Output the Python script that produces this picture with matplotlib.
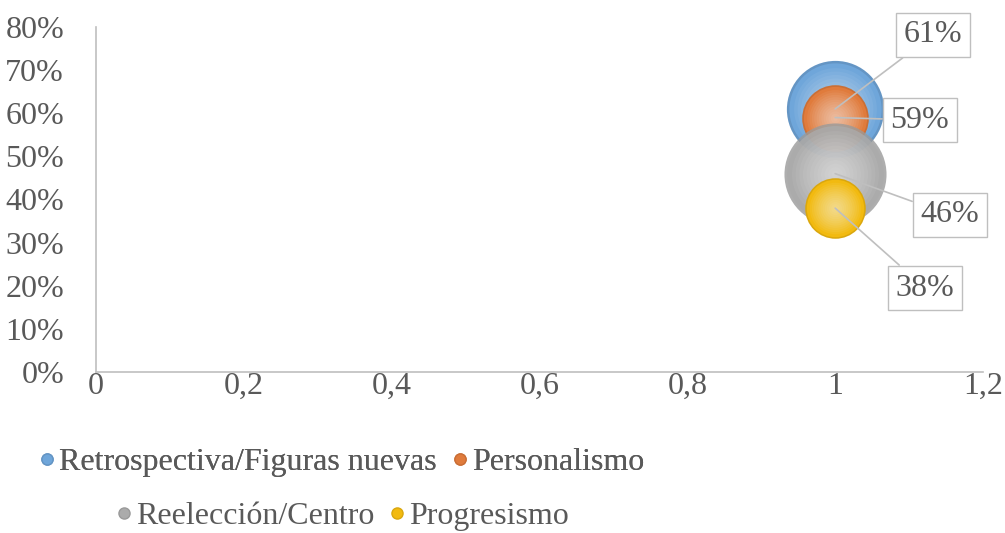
import numpy as np
import matplotlib.pyplot as plt
from matplotlib.colors import to_rgb
from matplotlib.lines import Line2D

# data
series = ['Retrospectiva/Figuras nuevas', 'Personalismo', 'Reelección/Centro', 'Progresismo']
x_vals = [1, 1, 1, 1]
y_vals = [0.61, 0.59, 0.46, 0.38]
bubble_size = [4900, 2300, 5400, 1900]   # marker area, pt^2
labels = ['61%', '59%', '46%', '38%']
colors = ['#6FA6DA', '#E07B3C', '#ABABAB', '#F2BA10']
y_ticks = [0, 0.1, 0.2, 0.3, 0.4, 0.5, 0.6, 0.7, 0.8]
x_ticks = [0, 0.2, 0.4, 0.6, 0.8, 1, 1.2]

plt.rcParams['font.family'] = ['Liberation Serif', 'DejaVu Serif']
txt = '#595959'
line_c = '#BFBFBF'
fs = 23

W, H = 1005, 533
fig = plt.figure(figsize=(W / 100, H / 100), dpi=100)
ax = fig.add_axes([96 / W, 1 - 372 / H, (983 - 96) / W, (372 - 27) / H])


def shade(c, f):
    r = np.array(to_rgb(c))
    return tuple(r * f)


def sphere(xv, yv, s, c, base_alpha, z):
    # soft rim, then lighter discs towards the centre
    ax.scatter([xv], [yv], s=s, color=shade(c, 0.9), alpha=base_alpha,
               linewidths=0, zorder=z)
    ax.scatter([xv], [yv], s=s * 0.9, color=c, alpha=base_alpha,
               linewidths=0, zorder=z + 0.01)
    n = 12
    for k in range(1, n + 1):
        f = 1 - k / (n + 1)
        ax.scatter([xv], [yv], s=s * 0.85 * f ** 2, color='white', alpha=0.06,
                   linewidths=0, zorder=z + 0.02 + k * 0.001)


alphas = [1.0, 1.0, 0.8, 1.0]
for i in range(len(series)):
    sphere(x_vals[i], y_vals[i], bubble_size[i], colors[i], alphas[i], 3 + i)

# data labels (box positions in figure pixels)
box_pos = [(933, 35), (920, 120), (950, 215), (925, 288)]
for i in range(len(series)):
    bx, by = box_pos[i]
    ax.annotate(labels[i], xy=(x_vals[i], y_vals[i]), xytext=(bx, H - by),
                textcoords='figure pixels', ha='center', va='center',
                fontsize=fs, color=txt, zorder=20,
                bbox=dict(boxstyle='square,pad=0.25', fc='white', ec=line_c, lw=1),
                arrowprops=dict(arrowstyle='-', color=line_c, lw=1.2,
                                shrinkA=0, shrinkB=0))

ax.set_xlim(0, 1.2)
ax.set_ylim(0, 0.8)
ax.set_yticks(y_ticks)
ax.set_yticklabels([f'{int(round(v * 100))}%' for v in y_ticks])
ax.set_xticks(x_ticks)
ax.set_xticklabels([f'{v:g}'.replace('.', ',') for v in x_ticks])
ax.tick_params(length=0, labelsize=fs, labelcolor=txt)
ax.tick_params(axis='y', pad=23)
ax.tick_params(axis='x', pad=0)
for sp in ['top', 'right']:
    ax.spines[sp].set_visible(False)
for sp in ['left', 'bottom']:
    ax.spines[sp].set_color(line_c)
    ax.spines[sp].set_linewidth(1.2)

# legend, two centred rows
handles = [Line2D([], [], ls='none', marker='o', markersize=8,
                  markerfacecolor=colors[i], markeredgecolor=shade(colors[i], 0.9))
           for i in range(len(series))]
lkw = dict(frameon=False, ncol=2, fontsize=fs, labelcolor=txt,
           handlelength=0.45, handletextpad=0.15, columnspacing=0.5, loc='center')
leg1 = fig.legend(handles[:2], series[:2], bbox_to_anchor=(342 / W, 1 - 462 / H), **lkw)
fig.add_artist(leg1)
fig.legend(handles[2:], series[2:], bbox_to_anchor=(343 / W, 1 - 516 / H), **lkw)

fig.savefig('out.png', dpi=100)
